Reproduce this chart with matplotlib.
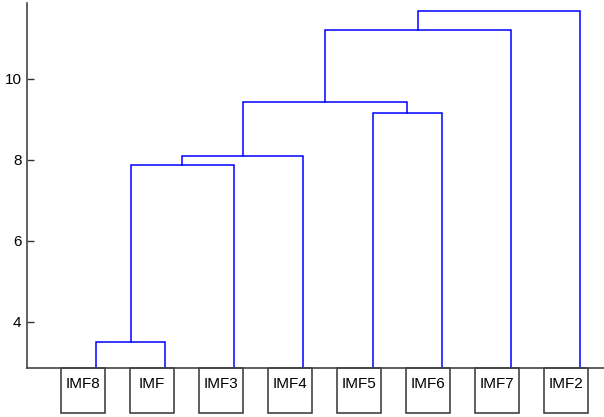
import matplotlib
matplotlib.use("Agg")
import matplotlib.pyplot as plt
import matplotlib.transforms as mtransforms
from matplotlib.patches import Rectangle

plt.rcParams['font.family'] = ['Liberation Sans Narrow', 'Liberation Sans', 'DejaVu Sans']

# leaf order along the x axis (positions 1..8)
leaf_labels = ['IMF8', 'IMF', 'IMF3', 'IMF4', 'IMF5', 'IMF6', 'IMF7', 'IMF2']

# merges: node ids 0..7 are leaves (in plot order), 8.. are clusters
merge_left = [0, 8, 9, 4, 10, 12, 13]
merge_right = [1, 2, 3, 5, 11, 6, 7]
merge_height = [3.51, 7.86, 8.10, 9.15, 9.42, 11.20, 11.68]

y_ticks = [4, 6, 8, 10]

fig = plt.figure(figsize=(6.04, 4.17), dpi=100)
ax = fig.add_axes([0.0447, 0.1168, 0.9553, 0.876])

# position and height of every node
node_x = {i: i + 1 for i in range(len(leaf_labels))}
node_y = {i: 0.0 for i in range(len(leaf_labels))}
for k, (a, b, h) in enumerate(zip(merge_left, merge_right, merge_height)):
    xa, xb = node_x[a], node_x[b]
    ya, yb = node_y[a], node_y[b]
    ax.plot([xa, xa, xb, xb], [ya, h, h, yb], color='#0000ff', lw=1.1,
            solid_joinstyle='miter')
    nid = len(leaf_labels) + k
    node_x[nid] = (xa + xb) / 2
    node_y[nid] = h

ax.set_xlim(0, 8.35)
ax.set_ylim(2.85, 11.87)
ax.set_yticks(y_ticks)
ax.set_yticklabels([str(t) for t in y_ticks])
ax.set_xticks([])
ax.tick_params(axis='y', direction='in', length=5, width=1, color='#333333',
               labelsize=11, pad=4)
for s in ['top', 'right']:
    ax.spines[s].set_visible(False)
for s in ['left', 'bottom']:
    ax.spines[s].set_color('#444444')
    ax.spines[s].set_linewidth(1.2)

# label boxes under the axis (a bit left of each leaf, like the original)
trans = mtransforms.blended_transform_factory(ax.transData, ax.transAxes)
shift = mtransforms.ScaledTranslation(-13.5 / 100, 0, fig.dpi_scale_trans)
box_w = 0.636
box_h = 45 / 365.3
for i, lab in enumerate(leaf_labels):
    xc = i + 1
    rect = Rectangle((xc - box_w / 2, -box_h), box_w, box_h,
                     transform=trans + shift, fill=False, edgecolor='#333333',
                     lw=1.1, clip_on=False)
    ax.add_patch(rect)
    ax.text(xc, -0.044, lab, transform=trans + shift, ha='center', va='center',
            fontsize=11, color='black', clip_on=False)

fig.savefig('out.png', dpi=100)
